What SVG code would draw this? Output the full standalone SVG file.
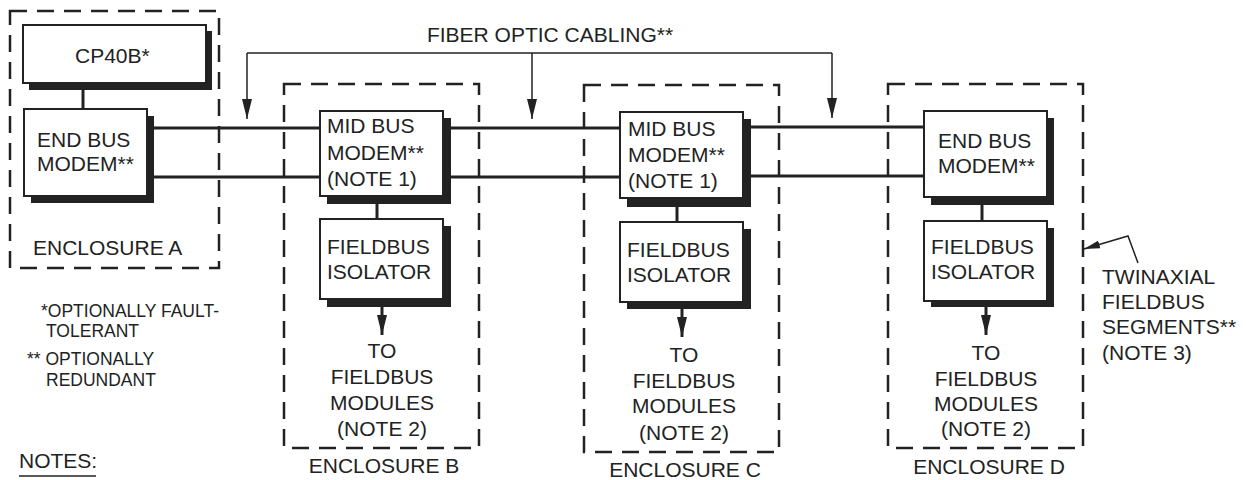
<svg xmlns="http://www.w3.org/2000/svg" width="1246" height="480" viewBox="0 0 1246 480">
<style>
text{font-family:"Liberation Sans",Arial,sans-serif;font-size:21px;fill:#222}
.sm{font-size:17.5px}
.mid{text-anchor:middle}
.encl{fill:none;stroke:#222;stroke-width:2.5;stroke-dasharray:17 10}
.box{fill:#fff;stroke:#222;stroke-width:2}
.sh{fill:#222}
.bus{stroke:#222;stroke-width:3;fill:none}
.thin{stroke:#222;stroke-width:1.5;fill:none}
</style>
<defs>
<marker id="fa" viewBox="0 0 20 10" refX="20" refY="5" markerWidth="20" markerHeight="10" markerUnits="userSpaceOnUse" orient="auto"><path d="M0,0 L20,5 L0,10 Z" fill="#222"/></marker>
<marker id="ta" viewBox="0 0 16 8" refX="16" refY="4" markerWidth="16" markerHeight="8" markerUnits="userSpaceOnUse" orient="auto"><path d="M0,0 L16,4 L0,8 Z" fill="#222"/></marker>
</defs>

<g id="enclosureA">
<rect class="encl" x="10" y="11" width="209" height="257"/>
<text x="33" y="255">ENCLOSURE A</text>
</g>
<g id="enclosureB">
<rect class="encl" x="284" y="84" width="195" height="364"/>
<text class="mid" x="384" y="473">ENCLOSURE B</text>
</g>
<g id="enclosureC">
<rect class="encl" x="584" y="85" width="195" height="367"/>
<text class="mid" x="685" y="477">ENCLOSURE C</text>
</g>
<g id="enclosureD">
<rect class="encl" x="888" y="84" width="195" height="364"/>
<text class="mid" x="989" y="474">ENCLOSURE D</text>
</g>

<g id="connectors">
<line class="bus" x1="147" y1="128" x2="320" y2="128"/>
<line class="bus" x1="147" y1="177" x2="320" y2="177"/>
<line class="bus" x1="443" y1="128" x2="620" y2="128"/>
<line class="bus" x1="443" y1="177" x2="620" y2="177"/>
<line class="bus" x1="743" y1="127" x2="924" y2="127"/>
<line class="bus" x1="743" y1="176" x2="924" y2="176"/>
<line class="bus" x1="83" y1="88" x2="83" y2="109"/>
<line class="bus" x1="377" y1="200" x2="377" y2="219"/>
<line class="bus" x1="677" y1="202" x2="677" y2="222"/>
<line class="bus" x1="982" y1="201" x2="982" y2="221"/>
<line class="bus" x1="382" y1="305" x2="382" y2="335" marker-end="url(#fa)"/>
<line class="bus" x1="682" y1="307" x2="682" y2="337" marker-end="url(#fa)"/>
<line class="bus" x1="986" y1="305" x2="986" y2="335" marker-end="url(#fa)"/>
<polyline class="thin" points="247,53 832,53"/>
<line class="thin" x1="247" y1="53" x2="247" y2="119" marker-end="url(#fa)"/>
<line class="thin" x1="532" y1="53" x2="532" y2="119" marker-end="url(#fa)"/>
<line class="thin" x1="832" y1="53" x2="832" y2="118" marker-end="url(#fa)"/>
<polyline class="thin" points="1138,263 1128,236 1084,249" marker-end="url(#ta)"/>
</g>

<g id="fiberLabel"><text class="mid" x="550" y="42">FIBER OPTIC CABLING**</text></g>

<g id="cp40b">
<rect class="sh" x="29" y="31" width="183" height="59"/>
<rect class="box" x="23" y="25" width="183" height="58"/>
<text x="75" y="63">CP40B*</text>
</g>
<g id="endModemA">
<rect class="sh" x="31" y="116" width="123" height="87"/>
<rect class="box" x="24" y="109" width="123" height="87"/>
<text x="37" y="147">END BUS</text>
<text x="37" y="171">MODEM**</text>
</g>
<g id="midModemB">
<rect class="sh" x="327" y="118" width="124" height="86"/>
<rect class="box" x="320" y="111" width="123" height="85"/>
<text x="327" y="133">MID BUS</text>
<text x="327" y="160">MODEM**</text>
<text x="327" y="186">(NOTE 1)</text>
</g>
<g id="isolatorB">
<rect class="sh" x="327" y="226" width="124" height="81"/>
<rect class="box" x="320" y="219" width="123" height="80"/>
<text x="327" y="254">FIELDBUS</text>
<text x="327" y="279">ISOLATOR</text>
</g>
<g id="midModemC">
<rect class="sh" x="627" y="119" width="124" height="88"/>
<rect class="box" x="620" y="112" width="123" height="86"/>
<text x="628" y="136">MID BUS</text>
<text x="628" y="162">MODEM**</text>
<text x="628" y="188">(NOTE 1)</text>
</g>
<g id="isolatorC">
<rect class="sh" x="627" y="229" width="124" height="80"/>
<rect class="box" x="620" y="222" width="123" height="80"/>
<text x="627" y="257">FIELDBUS</text>
<text x="627" y="282">ISOLATOR</text>
</g>
<g id="endModemD">
<rect class="sh" x="931" y="118" width="123" height="87"/>
<rect class="box" x="924" y="111" width="123" height="86"/>
<text x="938" y="148">END BUS</text>
<text x="938" y="173">MODEM**</text>
</g>
<g id="isolatorD">
<rect class="sh" x="931" y="228" width="123" height="79"/>
<rect class="box" x="924" y="221" width="123" height="80"/>
<text x="931" y="254">FIELDBUS</text>
<text x="931" y="279">ISOLATOR</text>
</g>

<g id="toModulesB">
<text class="mid" x="382" y="358">TO</text>
<text class="mid" x="382" y="384">FIELDBUS</text>
<text class="mid" x="382" y="410">MODULES</text>
<text class="mid" x="382" y="436">(NOTE 2)</text>
</g>
<g id="toModulesC">
<text class="mid" x="684" y="362">TO</text>
<text class="mid" x="684" y="388">FIELDBUS</text>
<text class="mid" x="684" y="413">MODULES</text>
<text class="mid" x="684" y="440">(NOTE 2)</text>
</g>
<g id="toModulesD">
<text class="mid" x="986" y="360">TO</text>
<text class="mid" x="986" y="386">FIELDBUS</text>
<text class="mid" x="986" y="411">MODULES</text>
<text class="mid" x="986" y="436">(NOTE 2)</text>
</g>

<g id="twinaxLabel">
<text x="1102" y="284">TWINAXIAL</text>
<text x="1102" y="309">FIELDBUS</text>
<text x="1102" y="334">SEGMENTS**</text>
<text x="1102" y="360">(NOTE 3)</text>
</g>

<g id="legend">
<text class="sm" x="41" y="317">*OPTIONALLY FAULT-</text>
<text class="sm" x="46" y="337">TOLERANT</text>
<text class="sm" x="27" y="365">** OPTIONALLY</text>
<text class="sm" x="46" y="386">REDUNDANT</text>
<text x="19" y="468">NOTES:</text>
<line x1="19" y1="476" x2="96" y2="476" stroke="#222" stroke-width="1.5"/>
</g>
</svg>
